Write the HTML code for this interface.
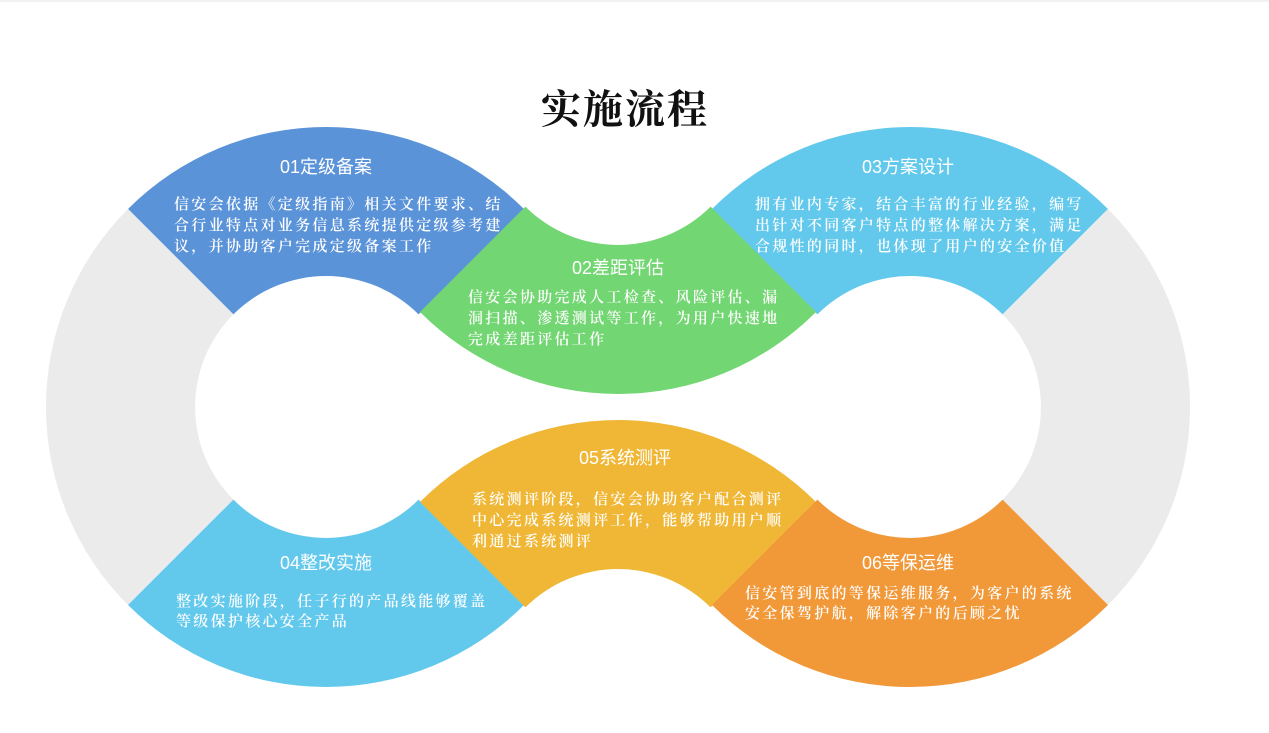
<!DOCTYPE html>
<html><head><meta charset="utf-8"><style>
html,body{margin:0;padding:0;background:#fff;}
svg{display:block;}
.t{font-family:"Liberation Sans","Noto Sans CJK SC",sans-serif;font-size:18px;fill:#fff;text-anchor:middle;}
.b{font-family:"Liberation Serif","Noto Serif CJK SC",serif;font-size:15px;font-weight:600;fill:#fff;letter-spacing:2.3px;}
</style></head><body>
<svg width="1269" height="733" viewBox="0 0 1269 733" xmlns="http://www.w3.org/2000/svg">
<rect x="0" y="0" width="1269" height="2" fill="#f2f2f2"/>
<path d="M128,209 A280,280 0 0 1 524,209 L418.6,314.4 A131,131 0 0 0 233.4,314.4 Z" fill="#5b93d9"/>
<path d="M128,605 A280,280 0 0 1 128,209 L233.4,314.4 A131,131 0 0 0 233.4,499.6 Z" fill="#ebebeb"/>
<path d="M524,605 A280,280 0 0 1 128,605 L233.4,499.6 A131,131 0 0 0 418.6,499.6 Z" fill="#62c9ec"/>
<path d="M712,209 A280,280 0 0 1 1108,209 L1002.6,314.4 A131,131 0 0 0 817.4,314.4 Z" fill="#62c9ec"/>
<path d="M1108,209 A280,280 0 0 1 1108,605 L1002.6,499.6 A131,131 0 0 0 1002.6,314.4 Z" fill="#ebebeb"/>
<path d="M420,312 A280,280 0 0 0 816,312 L710.6,206.6 A131,131 0 0 1 525.4,206.6 Z" fill="#72d672"/>
<path d="M420,502 A280,280 0 0 1 816,502 L710.6,607.4 A131,131 0 0 0 525.4,607.4 Z" fill="#efb735"/>
<path d="M1108,605 A280,280 0 0 1 712,605 L817.4,499.6 A131,131 0 0 0 1002.6,499.6 Z" fill="#f19838"/>

<text x="625" y="123" text-anchor="middle" style="font-family:'Noto Serif CJK SC',serif;font-size:40px;font-weight:bold;fill:#111;letter-spacing:2px">实施流程</text>

<text class="t" x="326" y="173">01定级备案</text>
<text class="b" x="174" y="209">信安会依据《定级指南》相关文件要求、结</text>
<text class="b" x="174" y="230">合行业特点对业务信息系统提供定级参考建</text>
<text class="b" x="174" y="251">议，并协助客户完成定级备案工作</text>

<text class="t" x="618" y="274">02差距评估</text>
<text class="b" x="468" y="302">信安会协助完成人工检查、风险评估、漏</text>
<text class="b" x="468" y="323">洞扫描、渗透测试等工作，为用户快速地</text>
<text class="b" x="468" y="344">完成差距评估工作</text>

<text class="t" x="908" y="173">03方案设计</text>
<text class="b" x="755" y="209">拥有业内专家，结合丰富的行业经验，编写</text>
<text class="b" x="755" y="230">出针对不同客户特点的整体解决方案，满足</text>
<text class="b" x="755" y="251">合规性的同时，也体现了用户的安全价值</text>

<text class="t" x="326" y="569">04整改实施</text>
<text class="b" x="176" y="606">整改实施阶段，任子行的产品线能够覆盖</text>
<text class="b" x="176" y="626">等级保护核心安全产品</text>

<text class="t" x="625" y="464">05系统测评</text>
<text class="b" x="472" y="504">系统测评阶段，信安会协助客户配合测评</text>
<text class="b" x="472" y="525">中心完成系统测评工作，能够帮助用户顺</text>
<text class="b" x="472" y="546">利通过系统测评</text>

<text class="t" x="908" y="569">06等保运维</text>
<text class="b" x="745" y="598">信安管到底的等保运维服务，为客户的系统</text>
<text class="b" x="745" y="618">安全保驾护航，解除客户的后顾之忧</text>
</svg>
</body></html>
